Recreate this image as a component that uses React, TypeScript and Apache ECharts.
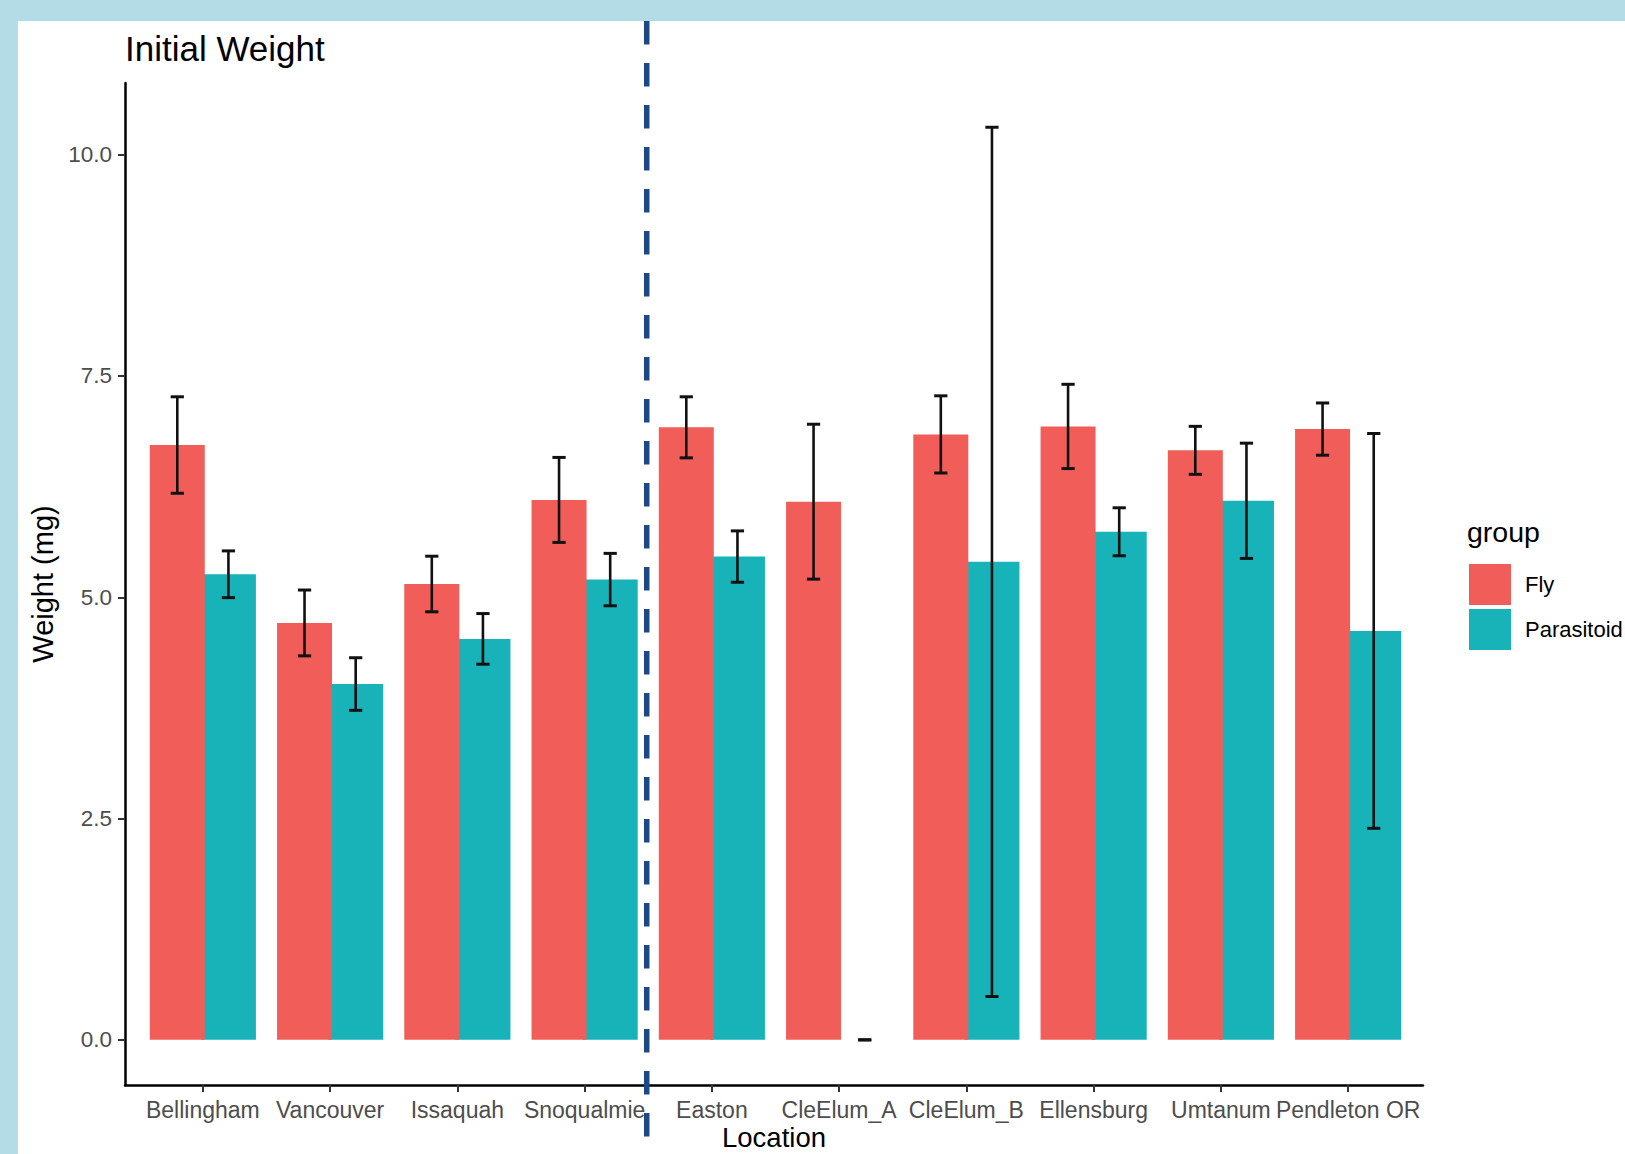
import React, { useEffect, useRef } from 'react';
import * as echarts from 'echarts';

// ---- data ----
const categories = [
  'Bellingham', 'Vancouver', 'Issaquah', 'Snoqualmie', 'Easton',
  'CleElum_A', 'CleElum_B', 'Ellensburg', 'Umtanum', 'Pendleton OR',
];
const seriesNames = ['Fly', 'Parasitoid'];
const flyMean = [6.72, 4.71, 5.15, 6.10, 6.92, 6.08, 6.84, 6.93, 6.66, 6.90];
const flyErr = [0.545, 0.372, 0.314, 0.48, 0.345, 0.875, 0.436, 0.476, 0.271, 0.295];
const parMean = [5.26, 4.02, 4.53, 5.20, 5.46, 0, 5.40, 5.74, 6.09, 4.62];
const parErr = [0.264, 0.297, 0.286, 0.296, 0.29, 0, 4.91, 0.271, 0.651, 2.23];
const yTicks = [0, 2.5, 5, 7.5, 10];

// ---- layout / style ----
const W = 1625;
const H = 1154;
const FRAME_L = 125;
const FRAME_R = 1423;
const FRAME_T = 83;
const FRAME_B = 1085;
const UNIT = (FRAME_R - FRAME_L) / (categories.length + 0.2);
const BAR_L = FRAME_L + 0.1 * UNIT + 1.5;
const Y_MIN = -0.51;
const Y_MAX = 10.81;
const FONT = "'Liberation Sans', Arial, Helvetica, sans-serif";
const RED = '#f15e59';
const TEAL = '#17b3b8';
const BAR_W = 55; // px
const BAR_GAP = -0.07; // fraction of bar width (slight overlap, Fly on top)
const ERR_OFFSET = (BAR_W / 2) * (1 + BAR_GAP);

function errorSeries(name: string, means: number[], errs: number[], sign: number) {
  return {
    type: 'custom',
    name,
    xAxisIndex: 0,
    yAxisIndex: 0,
    z: 5,
    data: means.map((m, i) => [i, m, errs[i]]),
    encode: { x: 0, y: 1 },
    renderItem: (params: any, api: any) => {
      const i = api.value(0);
      const m = api.value(1);
      const e = api.value(2);
      const band = api.size([1, 0])[0];
      const cx = api.coord([i, m])[0] + sign * ERR_OFFSET;
      const yTop = api.coord([i, m + e])[1];
      const yBot = api.coord([i, m - e])[1];
      const hw = 0.052 * band;
      const st = { stroke: '#111', lineWidth: 2.6 };
      return {
        type: 'group',
        children: [
          { type: 'line', shape: { x1: cx, y1: yTop, x2: cx, y2: yBot }, style: st },
          { type: 'line', shape: { x1: cx - hw, y1: yTop, x2: cx + hw, y2: yTop }, style: { ...st, lineWidth: 3 } },
          { type: 'line', shape: { x1: cx - hw, y1: yBot, x2: cx + hw, y2: yBot }, style: { ...st, lineWidth: 3 } },
        ],
      };
    },
  };
}

export default function App() {
  const ref = useRef<HTMLDivElement>(null);

  useEffect(() => {
    if (!ref.current) return;
    const chart = echarts.init(ref.current, null, { renderer: 'svg' });
    const divX = FRAME_L + 0.1 * UNIT + 4 * UNIT;
    const option: any = {
      animation: false,
      backgroundColor: '#b4dce6',
      color: [RED, TEAL],
      textStyle: { fontFamily: FONT },
      title: [
        {
          text: 'Initial Weight',
          left: 125,
          top: 31,
          padding: 0,
          textStyle: { fontSize: 35, fontWeight: 'normal', color: '#000', lineHeight: 35, fontFamily: FONT },
        },
        {
          text: 'group',
          left: 1467,
          top: 518,
          padding: 0,
          textStyle: { fontSize: 28.5, fontWeight: 'normal', color: '#000', lineHeight: 28.5, fontFamily: FONT },
        },
      ],
      legend: {
        data: seriesNames,
        orient: 'vertical',
        left: 1469,
        top: 564,
        padding: 0,
        itemWidth: 42,
        itemHeight: 41,
        itemGap: 4,
        icon: 'rect',
        selectedMode: false,
        textStyle: { fontSize: 22, color: '#000', padding: [0, 0, 0, 9], fontFamily: FONT },
      },
      grid: [
        {
          left: BAR_L,
          top: FRAME_T,
          width: 10 * UNIT,
          height: FRAME_B - FRAME_T,
          containLabel: false,
          outerBoundsMode: 'none',
        },
        {
          left: FRAME_L,
          top: FRAME_T,
          width: FRAME_R - FRAME_L,
          height: FRAME_B - FRAME_T,
          containLabel: false,
          outerBoundsMode: 'none',
        },
      ],
      xAxis: [
        {
          type: 'category',
          gridIndex: 0,
          data: categories,
          axisLine: { show: false, onZero: false },
          axisTick: { show: true, alignWithLabel: true, length: 7, lineStyle: { color: '#333', width: 2 } },
          axisLabel: { interval: 0, fontSize: 23, color: '#4d4d4d', margin: 13, lineHeight: 23, fontFamily: FONT },
          splitLine: { show: false },
        },
        {
          type: 'value',
          gridIndex: 1,
          min: 0,
          max: 1,
          axisLine: { show: true, onZero: false, lineStyle: { color: '#000', width: 2.5 } },
          axisTick: { show: false },
          axisLabel: { show: false },
          splitLine: { show: false },
          name: 'Location',
          nameLocation: 'middle',
          nameGap: 39,
          nameTextStyle: { fontSize: 27.5, color: '#000', lineHeight: 27.5, fontFamily: FONT },
        },
      ],
      yAxis: [
        { type: 'value', gridIndex: 0, min: Y_MIN, max: Y_MAX, show: false },
        {
          type: 'value',
          gridIndex: 1,
          min: Y_MIN,
          max: Y_MAX,
          axisLine: { show: true, onZero: false, lineStyle: { color: '#000', width: 2.5 } },
          axisTick: { show: true, length: 7, customValues: yTicks, lineStyle: { color: '#333', width: 2 } },
          axisLabel: {
            customValues: yTicks,
            formatter: (v: number) => v.toFixed(1),
            fontSize: 22.5,
            color: '#4d4d4d',
            margin: 13,
            fontFamily: FONT,
          },
          splitLine: { show: false },
          name: 'Weight (mg)',
          nameLocation: 'middle',
          nameRotate: 90,
          nameGap: 65,
          nameTextStyle: { fontSize: 29, color: '#000', lineHeight: 29, fontFamily: FONT },
        },
      ],
      series: [
        {
          type: 'bar',
          name: seriesNames[0],
          xAxisIndex: 0,
          yAxisIndex: 0,
          z: 3,
          data: flyMean,
          barWidth: BAR_W,
          barGap: `${BAR_GAP * 100}%`,
          itemStyle: { color: RED },
        },
        {
          type: 'bar',
          name: seriesNames[1],
          xAxisIndex: 0,
          yAxisIndex: 0,
          z: 2,
          data: parMean,
          barWidth: BAR_W,
          barGap: `${BAR_GAP * 100}%`,
          itemStyle: { color: TEAL },
        },
        errorSeries('Fly SE', flyMean, flyErr, -1),
        errorSeries('Parasitoid SE', parMean, parErr, 1),
      ],
      graphic: [
        {
          type: 'rect',
          z: -100,
          silent: true,
          shape: { x: 18, y: 21, width: W, height: H },
          style: { fill: '#ffffff' },
        },
        {
          type: 'line',
          z: 100,
          silent: true,
          shape: { x1: divX, y1: 21, x2: divX, y2: 1137 },
          style: { stroke: '#1d4a86', lineWidth: 5.5, lineDash: [23.5, 18.5] },
        },
      ],
    };
    chart.setOption(option);
    return () => chart.dispose();
  }, []);

  return (
    <div
      ref={ref}
      style={{ position: 'absolute', left: 0, top: 0, width: W, height: H }}
    />
  );
}
